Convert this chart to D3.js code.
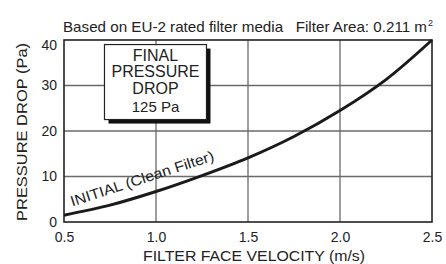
<!DOCTYPE html>
<meta charset="utf-8">
<script src="https://d3js.org/d3.v7.min.js"></script>
<style>
  body { margin: 0; background: #fff; }
  text { font-family: "Liberation Sans", Arial, sans-serif; fill: #222; white-space: pre; }
</style>
<div id="chart"></div>
<script>
// velocity (m/s) vs pressure drop (Pa)
const velocity = [0.5, 0.75, 1.0, 1.25, 1.5, 1.75, 2.0, 2.25, 2.5];
const pressure = [1.5, 3.7, 6.7, 10.2, 14.1, 18.8, 24.5, 31.3, 40];
const xTicks = [0.5, 1.0, 1.5, 2.0, 2.5];
const yTicks = [0, 10, 20, 30, 40];
const boxLines = ["FINAL", "PRESSURE", "DROP", "125 Pa"];

const W = 446, H = 264;
const margin = {top: 40, right: 14, bottom: 42, left: 64};
const width = W - margin.left - margin.right,
      height = H - margin.top - margin.bottom;

const svg = d3.select("#chart").append("svg")
    .attr("width", W).attr("height", H);
const g = svg.append("g").attr("transform", `translate(${margin.left},${margin.top})`);

const x = d3.scaleLinear().domain([0.5, 2.5]).range([0, width]);
const y = d3.scaleLinear().domain([0, 40]).range([height, 0]);

// grid
g.selectAll(".vg").data(xTicks.slice(1, -1)).enter().append("line")
    .attr("x1", d => x(d)).attr("x2", d => x(d))
    .attr("y1", 0).attr("y2", height)
    .style("stroke", "#6a6a6a").style("stroke-width", 1.3);
g.selectAll(".hg").data(yTicks.slice(1, -1)).enter().append("line")
    .attr("x1", 0).attr("x2", width)
    .attr("y1", d => y(d)).attr("y2", d => y(d))
    .style("stroke", "#6a6a6a").style("stroke-width", 1.3);

// frame
g.append("rect").attr("width", width).attr("height", height)
    .style("fill", "none").style("stroke", "#222").style("stroke-width", 1.6);

// axes labels (no tick marks)
const xAxis = g.append("g").attr("transform", `translate(0,${height})`)
    .call(d3.axisBottom(x).tickValues(xTicks).tickFormat(d3.format(".1f")).tickSize(0).tickPadding(10));
const yAxis = g.append("g")
    .call(d3.axisLeft(y).tickValues(yTicks).tickSize(0).tickPadding(7));
[xAxis, yAxis].forEach(a => {
  a.select(".domain").remove();
  a.selectAll("text").style("font-size", "14px")
    .style("font-family", "'Liberation Sans', Arial, sans-serif").style("fill", "#222");
});
yAxis.selectAll(".tick").filter(d => d === 40).select("text").attr("dy", "0.7em");

// curve
const pts = velocity.map((v, i) => [v, pressure[i]]);
g.append("path").datum(pts)
    .attr("d", d3.line().x(d => x(d[0])).y(d => y(d[1])).curve(d3.curveCatmullRom))
    .style("fill", "none").style("stroke", "#1a1a1a").style("stroke-width", 3);

// curve label
g.append("text")
    .attr("transform", `translate(${x(0.545)},${y(3.4)}) rotate(-18)`)
    .style("font-size", "14.5px")
    .attr("textLength", 150).attr("lengthAdjust", "spacingAndGlyphs")
    .text("INITIAL (Clean Filter)");

// final pressure box
const bx = x(0.72), by = y(39), bw = 102, bh = 75;
g.append("rect").attr("x", bx + 4).attr("y", by + 4).attr("width", bw).attr("height", bh)
    .style("fill", "#111");
g.append("rect").attr("x", bx).attr("y", by).attr("width", bw).attr("height", bh)
    .style("fill", "#fff").style("stroke", "#222").style("stroke-width", 1.2);
g.selectAll(".bl").data(boxLines).enter().append("text")
    .attr("x", bx + bw / 2)
    .attr("y", (d, i) => by + 16.5 + i * 16.3 + (i === 3 ? 2 : 0))
    .attr("text-anchor", "middle")
    .style("font-size", (d, i) => i === 3 ? "15px" : "16px")
    .text(d => d);

// title
svg.append("text").attr("x", 63).attr("y", 32)
    .style("font-size", "14.5px")
    .attr("textLength", 364).attr("lengthAdjust", "spacingAndGlyphs")
    .text("Based on EU-2 rated filter media   Filter Area: 0.211 m");
svg.append("text").attr("x", 428).attr("y", 26).style("font-size", "9px").text("2");

// axis titles
svg.append("text")
    .attr("x", margin.left + width / 2 + 6).attr("y", 261)
    .attr("text-anchor", "middle")
    .style("font-size", "14.5px")
    .attr("textLength", 222).attr("lengthAdjust", "spacingAndGlyphs")
    .text("FILTER FACE VELOCITY (m/s)");
svg.append("text")
    .attr("transform", `translate(27,132) rotate(-90)`)
    .attr("text-anchor", "middle")
    .style("font-size", "14.5px")
    .attr("textLength", 178).attr("lengthAdjust", "spacingAndGlyphs")
    .text("PRESSURE DROP (Pa)");
</script>
